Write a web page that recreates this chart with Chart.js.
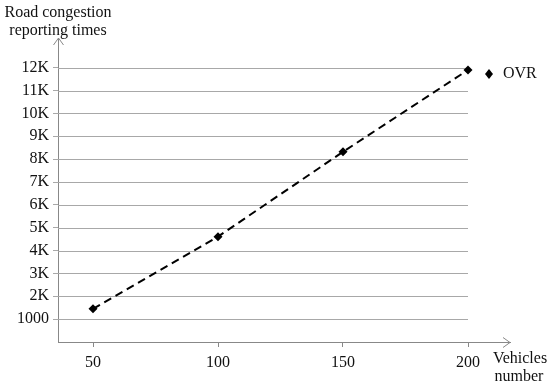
<!DOCTYPE html>
<html><head><meta charset="utf-8">
<script src="https://cdn.jsdelivr.net/npm/chart.js@4/dist/chart.umd.min.js"></script>
<style>html,body{margin:0;padding:0;background:#fff}#wrap{width:550px;height:385px}</style>
</head><body><div id="wrap"><canvas id="c" width="550" height="385"></canvas></div>
<script>
const vehicles = [50, 100, 150, 200];
const ovrTimes = [1450, 4610, 8320, 11900];
const yTickValues = [1000,2000,3000,4000,5000,6000,7000,8000,9000,10000,11000,12000];
const seriesName = 'OVR';
const yTitle = ['Road congestion', 'reporting times'];
const xTitle = ['Vehicles', 'number'];

const FONT = '"Liberation Serif", "Times New Roman", serif';
const AXIS = '#888';
const GRID = '#a8a8a8';

const deco = {
  id: 'deco',
  beforeDatasetsDraw(chart) {
    const {ctx, scales:{x, y}} = chart;
    ctx.save();
    ctx.strokeStyle = GRID; ctx.lineWidth = 1;
    const xr = x.getPixelForValue(vehicles[vehicles.length-1]);
    yTickValues.forEach(v => {
      const py = Math.round(y.getPixelForValue(v)) + 0.5;
      ctx.beginPath(); ctx.moveTo(x.left, py); ctx.lineTo(xr, py); ctx.stroke();
    });
    ctx.restore();
  },
  afterDraw(chart) {
    const {ctx, scales:{x, y}, chartArea:a} = chart;
    ctx.save();
    ctx.strokeStyle = AXIS; ctx.lineWidth = 1;
    ctx.beginPath();
    ctx.moveTo(a.left - 4.5, a.top + 7); ctx.lineTo(a.left + 0.5, a.top); ctx.lineTo(a.left + 5.5, a.top + 7);
    ctx.stroke();
    ctx.beginPath();
    ctx.moveTo(a.right - 7, a.bottom - 4.5); ctx.lineTo(a.right, a.bottom + 0.5); ctx.lineTo(a.right - 7, a.bottom + 5.5);
    ctx.stroke();
    ctx.fillStyle = '#111';
    ctx.font = '16px ' + FONT;
    ctx.textAlign = 'center'; ctx.textBaseline = 'middle';
    ctx.fillText(yTitle[0], 58, 13);
    ctx.fillText(yTitle[1], 58, 31);
    ctx.fillText(xTitle[0], 520, 359);
    ctx.fillText(xTitle[1], 519, 377);
    const lx = 489, ly = 74;
    ctx.fillStyle = '#000';
    ctx.beginPath();
    ctx.moveTo(lx, ly - 5); ctx.lineTo(lx + 4, ly); ctx.lineTo(lx, ly + 5); ctx.lineTo(lx - 4, ly); ctx.closePath();
    ctx.fill();
    ctx.fillStyle = '#111';
    ctx.textAlign = 'left';
    ctx.fillText(seriesName, 503, ly);
    ctx.restore();
  }
};

new Chart(document.getElementById('c'), {
  type: 'line',
  data: {
    datasets: [{
      label: seriesName,
      data: vehicles.map((v, i) => ({x: v, y: ovrTimes[i]})),
      borderColor: '#000',
      backgroundColor: '#000',
      borderWidth: 2,
      borderDash: [8, 5],
      pointStyle: 'rectRot',
      pointRadius: 4.5,
      pointBackgroundColor: '#000',
      pointBorderWidth: 0,
      tension: 0
    }]
  },
  plugins: [deco],
  options: {
    responsive: false,
    animation: false,
    events: [],
    layout: { padding: { top: 38, right: 40, left: 0, bottom: 0 } },
    plugins: { legend: { display: false }, tooltip: { enabled: false } },
    scales: {
      x: {
        type: 'linear',
        min: 36, max: 216.8,
        afterFit: s => { s.height = 43; },
        afterBuildTicks: s => { s.ticks = vehicles.map(v => ({value: v})); },
        grid: { drawOnChartArea: false, drawTicks: true, tickLength: 5, color: AXIS },
        border: { display: true, color: AXIS, width: 1 },
        ticks: { color: '#111', font: { family: FONT, size: 16 }, padding: 6, maxRotation: 0 }
      },
      y: {
        type: 'linear',
        min: 0, max: 13300,
        afterFit: s => { s.width = 58; },
        afterBuildTicks: s => { s.ticks = yTickValues.map(v => ({value: v})); },
        grid: { drawOnChartArea: false, drawTicks: true, tickLength: 5, color: GRID },
        border: { display: true, color: AXIS, width: 1 },
        ticks: {
          color: '#111', font: { family: FONT, size: 16 }, padding: 4,
          callback: v => v === 1000 ? '1000' : (v / 1000) + 'K'
        }
      }
    }
  }
});
</script>
</body></html>
